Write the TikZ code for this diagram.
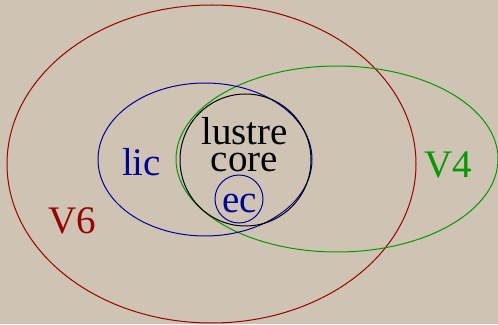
\documentclass[tikz,border=0pt]{standalone}
\usepackage{fontspec}
\setmainfont{Liberation Serif}
\definecolor{fundo}{RGB}{207,195,180}
\definecolor{vermelho}{RGB}{153,0,0}
\definecolor{verde}{RGB}{0,153,0}
\definecolor{azul}{RGB}{0,0,153}

\begin{document}
\begin{tikzpicture}[x=1pt, y=1pt,
  zona/.style={line width=1pt},
  rot/.style={font=\fontsize{39}{27}\selectfont, anchor=base, inner sep=0pt},
]
  % fundo: 498 x 324
  \fill[fundo] (0,0) rectangle (498,324);
  \useasboundingbox (0,0) rectangle (498,324);

  \draw[zona, vermelho] (211.5,160) ellipse [x radius=204.5, y radius=159];
  \draw[zona, verde] (337,165) ellipse [x radius=161, y radius=93];
  \draw[zona, azul] (205,164.5) ellipse [x radius=107, y radius=76.5];
  \draw[zona, black] (245.5,164) ellipse [x radius=65.5, y radius=66];
  \draw[zona, azul] (239,125) circle [radius=24];

  \node[rot, anchor=center, align=center] (nucleo) at (244.5,179) {lustre\\core};
  \node[rot, text=azul] (lic) at (141.5,148) {lic};
  \node[rot, text=vermelho] (v6) at (72.5,90) {V6};
  \node[rot, text=verde] (v4) at (448.5,146) {V4};
  \node[rot, text=azul] (ec) at (239.5,111) {ec};
\end{tikzpicture}
\end{document}
